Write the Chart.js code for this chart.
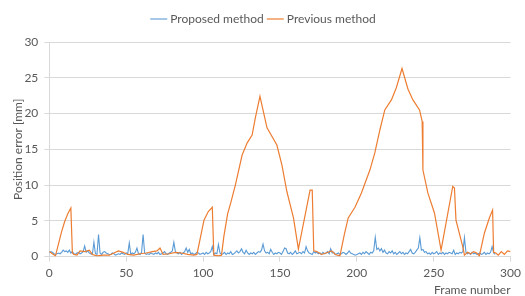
<!DOCTYPE html>
<html>
<head>
<meta charset="utf-8">
<script src="https://cdn.jsdelivr.net/npm/chart.js@4"></script>
<style>
  html, body { margin: 0; padding: 0; background: #fff; }
  #wrap { width: 525px; height: 296px; }
</style>
</head>
<body>
<div id="wrap"><canvas id="myChart"></canvas></div>
<script>
// Proposed method: one value per frame, frames 0..290
const proposedStart = 0
const proposedValues = [
  0.5, 0.7, 0.6, 0.4, 0.3, 0.4, 0.5, 0.4, 0.6, 0.9,
  0.7, 0.8, 0.6, 0.9, 0.5, 0.7, 0.4, 0.3, 0.5, 0.6,
  0.4, 0.5, 0.7, 1.5, 0.6, 0.8, 0.5, 0.4, 0.3, 2.0,
  0.4, 0.3, 3.1, 0.5, 0.3, 0.6, 0.7, 0.5, 0.4, 0.3,
  0.3, 0.5, 0.4, 0.2, 0.3, 0.4, 0.3, 0.5, 0.4, 0.3,
  0.5, 0.4, 1.9, 0.3, 0.5, 0.4, 0.6, 1.2, 0.4, 0.3,
  0.6, 3.1, 0.5, 0.3, 0.4, 0.3, 0.5, 0.4, 0.3, 0.5,
  0.4, 0.6, 0.3, 0.4, 0.5, 0.7, 0.4, 0.3, 0.5, 0.6,
  0.8, 2.0, 0.7, 0.5, 0.4, 0.6, 0.3, 0.5, 0.7, 1.2,
  0.6, 1.0, 0.4, 0.5, 0.3, 0.4, 0.6, 0.5, 0.3, 0.4,
  0.5, 0.3, 0.6, 0.4, 0.5, 0.7, 1.4, 0.3, 0.5, 0.4,
  1.7, 0.5, 0.3, 0.4, 0.6, 0.3, 0.5, 0.4, 0.7, 0.3,
  0.4, 0.6, 0.8, 0.5, 0.7, 1.1, 0.6, 0.4, 0.9, 0.5,
  0.3, 0.5, 0.4, 0.6, 0.3, 0.5, 0.7, 0.6, 0.9, 1.75,
  0.8, 0.5, 0.6, 0.4, 1.0, 0.6, 0.3, 0.5, 0.4, 0.6,
  0.5, 0.3, 0.7, 1.2, 1.1, 0.5, 0.4, 0.6, 0.3, 0.5,
  0.8, 0.4, 0.5, 0.6, 0.4, 0.7, 0.5, 1.4, 0.8, 0.5,
  0.4, 0.3, 0.7, 0.5, 0.6, 0.4, 0.5, 0.3, 0.6, 0.4,
  0.5, 0.7, 0.4, 1.1, 0.5, 0.6, 0.3, 0.4, 0.5, 0.3,
  0.4, 0.6, 0.5, 0.3, 0.5, 0.8, 0.5, 0.4, 0.3, 0.2,
  0.3, 0.4, 0.5, 0.3, 0.6, 0.4, 0.7, 0.5, 0.3, 0.6,
  0.5, 0.8, 2.7, 1.0, 1.2, 0.8, 1.1, 0.6, 0.9, 0.5,
  0.4, 0.7, 0.5, 0.8, 0.4, 0.6, 0.3, 0.5, 0.7, 0.4,
  0.6, 0.3, 0.5, 0.4, 0.7, 1.0, 0.5, 0.4, 0.6, 0.9,
  1.2, 2.65, 0.9, 1.0, 0.6, 0.7, 0.4, 0.5, 0.3, 0.6,
  0.4, 0.5, 0.7, 0.3, 0.5, 0.4, 0.6, 0.3, 0.5, 0.4,
  0.6, 0.5, 0.4, 0.9, 0.3, 0.5, 0.4, 0.6, 0.5, 0.7,
  2.65, 0.6, 0.4, 0.5, 0.3, 0.6, 0.4, 0.5, 0.3, 0.4,
  0.5, 0.3, 0.4, 0.6, 0.3, 0.5, 0.4, 0.6, 1.4, 0.5,
  0.3
]

// Previous method: frames and values read at the corners of the line
const previousFrames = [
  0, 2, 4, 6, 8, 10, 12, 14, 15, 16, 18, 20, 23, 26, 28, 31, 35, 39, 42, 45,
  48, 51, 55, 59, 63, 67, 70, 72, 74, 78, 82, 86, 90, 94, 96, 98.4, 100.6, 103.4, 106, 107,
  110, 112, 113.5, 116, 118, 121, 125.4, 128.7, 131.9, 134, 137, 141.6, 148, 151.3, 154.5, 158.8, 162, 169.6, 171, 172,
  174, 177, 180, 183.6, 186, 189, 192, 194.4, 198.8, 203, 208.5, 211.7, 215, 218.2, 222.5, 225.7, 229.4, 233.3, 236.5, 240.8,
  242.5, 243, 246.2, 250.5, 254.8, 262.4, 263.5, 264.5, 268.9, 270, 272, 274, 276, 278, 279.7, 283, 286.2, 288.3, 289, 290.4,
  292, 294, 296, 298, 300
]
const previousValues = [
  0.7, 0.4, 0.1, 1.8, 3.5, 4.9, 6.0, 6.8, 0.5, 0.3, 0.2, 0.8, 0.7, 0.9, 0.3, 0.1, 0.2, 0.2, 0.5, 0.8,
  0.6, 0.3, 0.2, 0.4, 0.5, 0.7, 0.8, 1.2, 0.3, 0.4, 0.6, 0.5, 0.3, 0.2, 0.3, 2.8, 5.1, 6.3, 6.9, 0.2,
  0.1, 0.2, 2.8, 6.0, 7.5, 10.0, 14.2, 15.9, 17.0, 19.4, 22.4, 18.0, 15.6, 12.8, 9.1, 5.4, 1.05, 9.3, 9.3, 0.8,
  0.7, 0.3, 0.5, 0.8, 0.3, 0.1, 3.2, 5.4, 6.9, 8.9, 12.1, 14.5, 17.7, 20.5, 21.9, 23.6, 26.3, 23.4, 21.9, 20.5,
  18.9, 12.1, 8.9, 6.1, 0.9, 9.8, 9.6, 5.1, 1.4, 0.2, 0.6, 0.4, 0.7, 0.5, 0.1, 3.3, 5.4, 6.5, 0.6, 0.5,
  0.2, 0.7, 0.3, 0.8, 0.7
]

const seriesNames = ['Proposed method', 'Previous method']
const seriesColors = ['#5b9bd5', '#ed7d31']
const yTicks = [0, 5, 10, 15, 20, 25, 30]
const xTicks = [0, 50, 100, 150, 200, 250, 300]

const textColor = '#595959'
const gridColor = '#d9d9d9'
const fontFamily = 'Lato, "Open Sans", sans-serif'
const fontSize = 12

const proposedPoints = proposedValues.map((v, i) => ({ x: proposedStart + i, y: v }))
const previousPoints = previousFrames.map((f, i) => ({ x: f, y: previousValues[i] }))

// extra space under the legend
const legendGap = {
  id: 'legendGap',
  beforeInit (chart) {
    const fit = chart.legend.fit
    chart.legend.fit = function () {
      fit.call(this)
      this.height += 7
    }
  }
}

const ctx = document.getElementById('myChart').getContext('2d')
new Chart(ctx, {
  type: 'line',
  data: {
    datasets: [
      {
        label: seriesNames[0],
        data: proposedPoints,
        borderColor: seriesColors[0],
        backgroundColor: seriesColors[0],
        borderWidth: 1.1,
        pointRadius: 0,
        tension: 0,
        order: 1
      },
      {
        label: seriesNames[1],
        data: previousPoints,
        borderColor: seriesColors[1],
        backgroundColor: seriesColors[1],
        borderWidth: 1.2,
        pointRadius: 0,
        tension: 0,
        order: 0
      }
    ]
  },
  plugins: [legendGap],
  options: {
    responsive: true,
    maintainAspectRatio: false,
    animation: false,
    layout: { padding: { left: 11, right: 7, top: 7, bottom: 0 } },
    scales: {
      x: {
        type: 'linear',
        min: 0,
        max: 300,
        afterBuildTicks: axis => { axis.ticks = xTicks.map(v => ({ value: v })) },
        grid: { drawOnChartArea: false, drawTicks: true, tickLength: 5, color: gridColor },
        border: { color: gridColor },
        ticks: { color: textColor, font: { family: fontFamily, size: fontSize }, padding: 4, maxRotation: 0 },
        title: {
          display: true,
          text: 'Frame number',
          align: 'end',
          color: textColor,
          font: { family: fontFamily, size: fontSize, lineHeight: 1 },
          padding: { top: 0, bottom: 0 }
        }
      },
      y: {
        min: 0,
        max: 30,
        afterBuildTicks: axis => { axis.ticks = yTicks.map(v => ({ value: v })) },
        grid: { color: gridColor, tickLength: 5 },
        border: { color: gridColor },
        ticks: { color: textColor, font: { family: fontFamily, size: fontSize }, padding: 6 },
        title: {
          display: true,
          text: 'Position error [mm]',
          color: textColor,
          font: { family: fontFamily, size: fontSize },
          padding: { top: 0, bottom: -7 }
        }
      }
    },
    plugins: {
      legend: {
        display: true,
        position: 'top',
        labels: {
          usePointStyle: true,
          pointStyle: 'line',
          boxWidth: 11,
          color: textColor,
          font: { family: fontFamily, size: fontSize },
          padding: 6,
          sort: (a, b) => a.datasetIndex - b.datasetIndex
        }
      },
      tooltip: { enabled: false }
    }
  }
})
</script>
</body>
</html>
